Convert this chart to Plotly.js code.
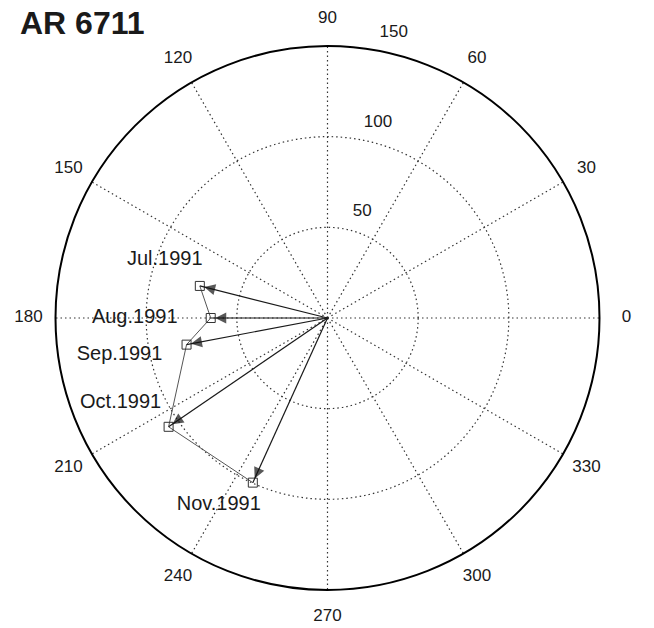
<!DOCTYPE html>
<html><head><meta charset="utf-8">
<script src="https://cdn.plot.ly/plotly-3.0.1.min.js"></script>
<style>html,body{margin:0;padding:0;background:#fff}</style>
</head><body>
<div id="chart" style="width:654px;height:628px"></div>
<script>
// ---- data ----
const chartTitle = 'AR 6711';
const months = ['Jul.1991', 'Aug.1991', 'Sep.1991', 'Oct.1991', 'Nov.1991'];
const rValues = [72.6, 64.4, 79.1, 106.2, 99.7];
const thetaValues = [165.9, 180, 190.7, 214.4, 245.6];
const radialTicks = [50, 100, 150];
const radialTickText = ['50', '100', '150'];
const angularTicks = [0, 30, 60, 90, 120, 150, 180, 210, 240, 270, 300, 330];
const radialMax = 150;

// ---- style / layout config ----
const W = 654, H = 628;
const cx = 327.5, cy = 318, radiusPx = 272;
const pxToUnit = radialMax / radiusPx;
const outerMax = 170;                       // range of the transparent label overlay
const outerPx = outerMax / pxToUnit;
const labelOffsetsPx = [[-35, 26], [-76, 0], [-67, -10], [-48, 24], [-34, -22]];
const radialLabelAxisAngle = 80;
const radialLabelOffsetPx = [19, 17];
const angularLabelRadiusPx = 299;
const textColor = '#1a1a1a';
const font = 'Arial, "Liberation Sans", sans-serif';
const gridDash = '1.5px,3px';

function toXY(r, th) { const t = th * Math.PI / 180; return [r * Math.cos(t), r * Math.sin(t)]; }
function toPolar(x, y) { return [Math.hypot(x, y), Math.atan2(y, x) * 180 / Math.PI]; }
function shifted(r, th, dxPx, dyPx) {
  const [x, y] = toXY(r, th);
  return toPolar(x + dxPx * pxToUnit, y + dyPx * pxToUnit);
}

// arrows from the centre to each point
const arR = [], arT = [], arSym = [], arSize = [], arAng = [];
rValues.forEach((r, i) => {
  arR.push(0, r, null);
  arT.push(thetaValues[i], thetaValues[i], null);
  arSym.push('circle', 'arrow-up', 'circle');
  arSize.push(0, 11, 0);
  arAng.push(0, 90 - thetaValues[i], 0);
});

const arrows = {
  type: 'scatterpolar', subplot: 'polar', mode: 'lines+markers', r: arR, theta: arT,
  line: {color: '#1a1a1a', width: 1.2}, connectgaps: false,
  marker: {symbol: arSym, size: arSize, angle: arAng, standoff: 4.5, color: '#111', line: {width: 0}},
  hoverinfo: 'skip'
};

const path = {
  type: 'scatterpolar', subplot: 'polar', mode: 'lines+markers', r: rValues, theta: thetaValues,
  line: {color: '#555', width: 1},
  marker: {symbol: 'square-open', size: 9, color: '#333', line: {width: 1}}
};

const lblPos = months.map((m, i) => shifted(rValues[i], thetaValues[i], labelOffsetsPx[i][0], labelOffsetsPx[i][1]));
const monthLabels = {
  type: 'scatterpolar', subplot: 'polar2', mode: 'text', r: lblPos.map(p => p[0]), theta: lblPos.map(p => p[1]),
  text: months, textposition: 'middle center',
  textfont: {family: font, size: 20, color: textColor}, hoverinfo: 'skip'
};

const rPos = radialTicks.map(v => shifted(v, radialLabelAxisAngle, radialLabelOffsetPx[0], radialLabelOffsetPx[1]));
const radialLabels = {
  type: 'scatterpolar', subplot: 'polar2', mode: 'text', r: rPos.map(p => p[0]), theta: rPos.map(p => p[1]),
  text: radialTickText, textposition: 'middle center',
  textfont: {family: font, size: 17, color: textColor}, hoverinfo: 'skip'
};

const angR = angularLabelRadiusPx * pxToUnit;
const angularLabels = {
  type: 'scatterpolar', subplot: 'polar2', mode: 'text', r: angularTicks.map(() => angR), theta: angularTicks,
  text: angularTicks.map(String), textposition: 'middle center',
  textfont: {family: font, size: 17, color: textColor}, hoverinfo: 'skip'
};

const hiddenAxis = {showticklabels: false, ticks: '', showline: false, showgrid: false};

const layout = {
  width: W, height: H,
  margin: {l: 0, r: 0, t: 0, b: 0},
  paper_bgcolor: '#fff', showlegend: false,
  title: {text: '<b>' + chartTitle + '</b>', x: 20 / W, xanchor: 'left', xref: 'paper',
          y: 1 - 23 / H, yanchor: 'middle', yref: 'paper',
          font: {family: font, size: 32, color: textColor}},
  polar: {
    domain: {x: [(cx - radiusPx) / W, (cx + radiusPx) / W], y: [1 - (cy + radiusPx) / H, 1 - (cy - radiusPx) / H]},
    bgcolor: '#fff',
    radialaxis: {range: [0, radialMax], tickvals: radialTicks, showticklabels: false, ticks: '',
                 showline: false, showgrid: true, gridcolor: '#333', gridwidth: 1.2, griddash: gridDash},
    angularaxis: {tickvals: angularTicks, showticklabels: false, ticks: '', direction: 'counterclockwise',
                  rotation: 0, showline: true, linecolor: '#000', linewidth: 2,
                  showgrid: true, gridcolor: '#333', gridwidth: 1.2, griddash: gridDash}
  },
  polar2: {
    domain: {x: [(cx - outerPx) / W, (cx + outerPx) / W], y: [1 - (cy + outerPx) / H, 1 - (cy - outerPx) / H]},
    bgcolor: 'rgba(0,0,0,0)',
    radialaxis: Object.assign({range: [0, outerMax]}, hiddenAxis),
    angularaxis: Object.assign({direction: 'counterclockwise', rotation: 0}, hiddenAxis)
  }
};

Plotly.newPlot('chart', [path, arrows, monthLabels, radialLabels, angularLabels], layout, {displayModeBar: false, staticPlot: true});
</script>
</body></html>
